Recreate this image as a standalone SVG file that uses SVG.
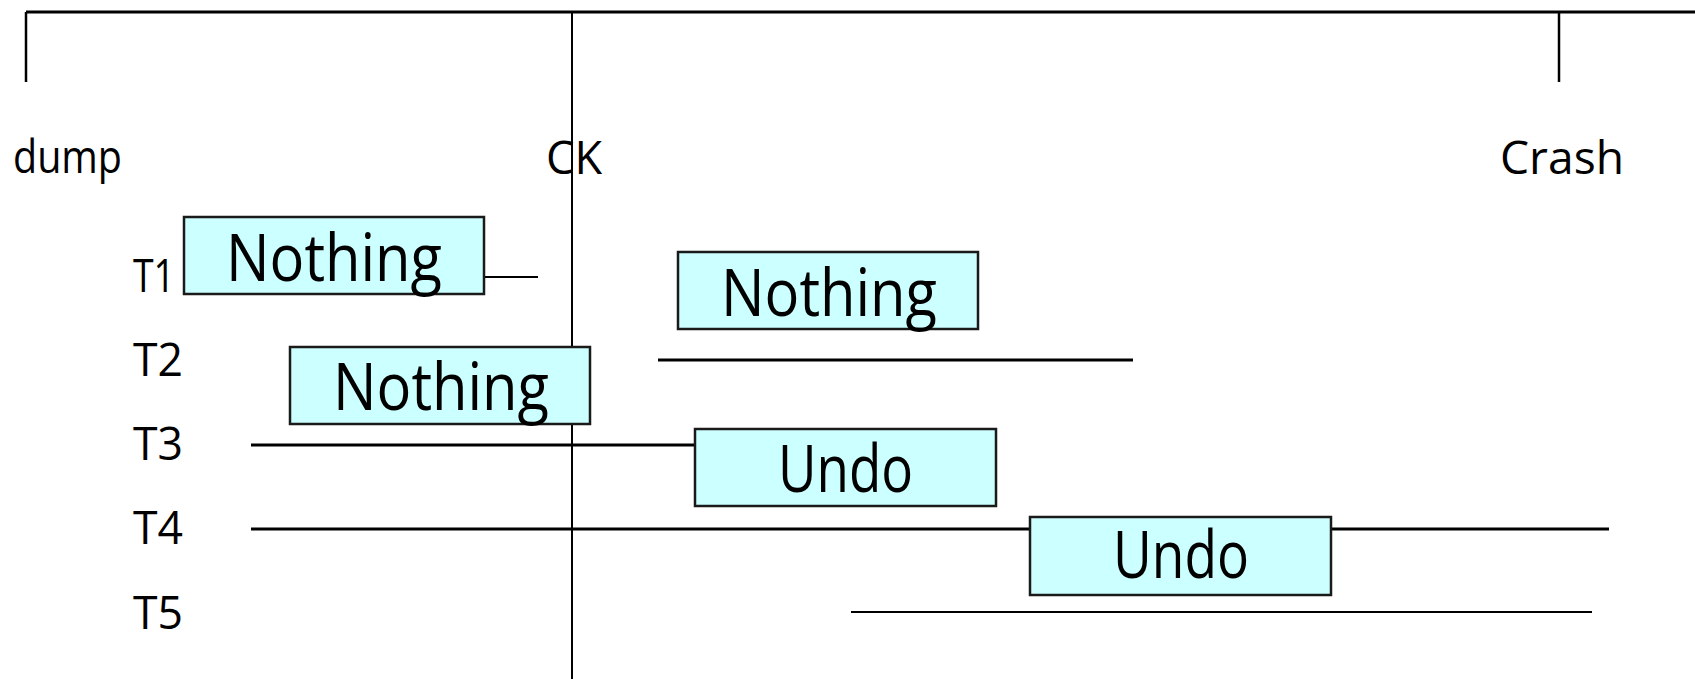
<svg xmlns="http://www.w3.org/2000/svg" width="1695" height="679" viewBox="0 0 1695 679">
  <style>
    .txt { font-family: "Open Sans", "DejaVu Sans", sans-serif; fill: #000; }
    .lbl { font-size: 46px; }
    .box rect { fill: #CCFFFF; stroke: #1a1a1a; stroke-width: 2.5; }
    .box text { font-size: 66px; text-anchor: start; }
    .ln { stroke: #000; fill: none; }
  </style>
  <rect width="1695" height="679" fill="#fff"/>

  <!-- timeline frame -->
  <g id="timeline" class="ln">
    <line x1="26" y1="12" x2="1695" y2="12" stroke-width="3"/>
    <line x1="26" y1="12" x2="26" y2="82" stroke-width="2.5"/>
    <line x1="1559" y1="12" x2="1559" y2="82" stroke-width="2.5"/>
    <line x1="572" y1="12" x2="572" y2="679" stroke-width="2"/>
  </g>

  <!-- transaction lines -->
  <g id="connectors" class="ln">
    <line x1="484" y1="277" x2="538" y2="277" stroke-width="1.8"/>
    <line x1="658" y1="360" x2="1133" y2="360" stroke-width="3"/>
    <line x1="251" y1="445" x2="695" y2="445" stroke-width="3"/>
    <line x1="251" y1="529" x2="1609" y2="529" stroke-width="3"/>
    <line x1="851" y1="612" x2="1592" y2="612" stroke-width="2.2"/>
  </g>

  <!-- axis labels -->
  <g id="labels" class="txt lbl">
    <text x="13" y="173" textLength="109" lengthAdjust="spacingAndGlyphs">dump</text>
    <text x="546" y="174" textLength="56" lengthAdjust="spacingAndGlyphs">CK</text>
    <text x="1500" y="174" textLength="124" lengthAdjust="spacingAndGlyphs">Crash</text>
    <text x="133" y="292" textLength="42" lengthAdjust="spacingAndGlyphs">T1</text>
    <text x="133" y="376" textLength="50" lengthAdjust="spacingAndGlyphs">T2</text>
    <text x="133" y="460" textLength="50" lengthAdjust="spacingAndGlyphs">T3</text>
    <text x="133" y="544" textLength="50" lengthAdjust="spacingAndGlyphs">T4</text>
    <text x="133" y="629" textLength="50" lengthAdjust="spacingAndGlyphs">T5</text>
  </g>

  <!-- recovery action boxes -->
  <g id="box-t1-left" class="box txt">
    <rect x="184" y="217" width="300" height="77"/>
    <text x="226" y="281" textLength="216" lengthAdjust="spacingAndGlyphs">Nothing</text>
  </g>
  <g id="box-t1-right" class="box txt">
    <rect x="678" y="252" width="300" height="77"/>
    <text x="721" y="316" textLength="216" lengthAdjust="spacingAndGlyphs">Nothing</text>
  </g>
  <g id="box-t2" class="box txt">
    <rect x="290" y="347" width="300" height="77"/>
    <text x="333" y="410" textLength="216" lengthAdjust="spacingAndGlyphs">Nothing</text>
  </g>
  <g id="box-t3" class="box txt">
    <rect x="695" y="429" width="301" height="77"/>
    <text x="778" y="492" textLength="135" lengthAdjust="spacingAndGlyphs">Undo</text>
  </g>
  <g id="box-t4" class="box txt">
    <rect x="1030" y="517" width="301" height="78"/>
    <text x="1113" y="578" textLength="136" lengthAdjust="spacingAndGlyphs">Undo</text>
  </g>
</svg>
